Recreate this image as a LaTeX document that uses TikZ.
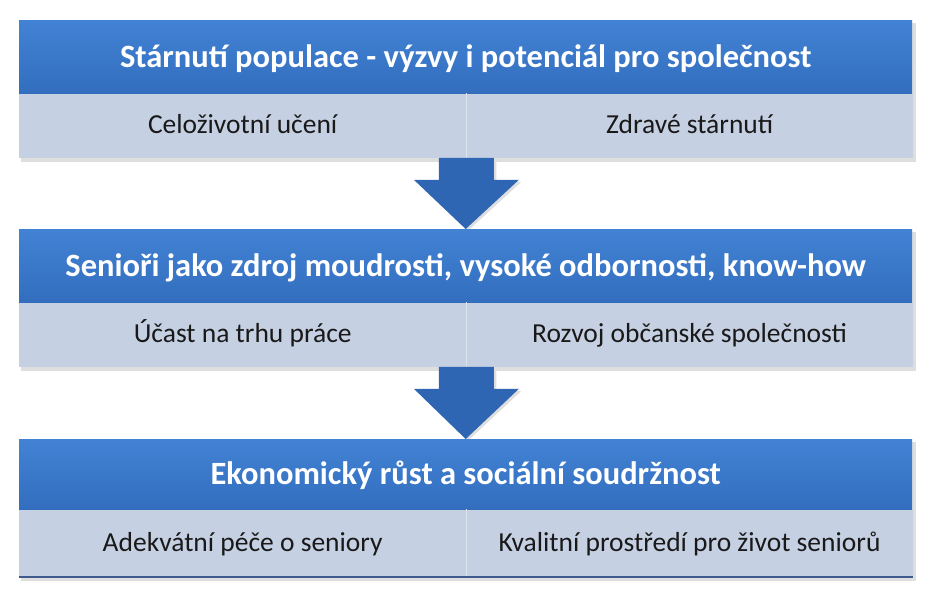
\documentclass[tikz,border=0pt]{standalone}
\usepackage{fontspec}
\setmainfont{Carlito}
\usetikzlibrary{calc,backgrounds}
\definecolor{headtop}{HTML}{4282D4}
\definecolor{headbot}{HTML}{336EBE}
\definecolor{subfill}{HTML}{C6D0E3}
\definecolor{subline}{HTML}{DCE3EF}
\definecolor{arrowfill}{HTML}{2F66B3}
\definecolor{boxedge}{HTML}{3E5A8C}
\begin{document}
\begin{tikzpicture}[x=1pt,y=-1pt,
    head/.style={anchor=north west, minimum width=893pt, minimum height=73pt,
      inner sep=0pt, top color=headtop, bottom color=headbot, text=white,
      text height=21pt, text depth=0pt,
      font=\fontsize{32.5}{38}\selectfont\bfseries},
    sub/.style={anchor=north west, minimum height=64pt, inner sep=0pt,
      fill=subfill, text=black!90, text height=16pt, text depth=0pt,
      font=\fontsize{27.5}{32}\selectfont},
    subl/.style={sub, minimum width=447pt},
    subr/.style={sub, minimum width=446pt},
    blockarrow/.style={fill=arrowfill},
    shade box/.style={fill=black!13}]
  \useasboundingbox (0,0) rectangle (933,599);
  \node[head] (h1) at (19,20) {Stárnutí populace - výzvy i potenciál pro společnost};
  \node[subl] (a1) at (h1.south west) {Celoživotní učení};
  \node[subr] (b1) at (a1.north east) {Zdravé stárnutí};
  \node[head] (h2) at (19,229) {Senioři jako zdroj moudrosti, vysoké odbornosti, know-how};
  \node[subl] (a2) at (h2.south west) {Účast na trhu práce};
  \node[subr] (b2) at (a2.north east) {Rozvoj občanské společnosti};
  \node[head, minimum height=70pt] (h3) at (19,439) {Ekonomický růst a sociální soudržnost};
  \node[subl, minimum height=67pt] (a3) at (h3.south west) {Adekvátní péče o seniory};
  \node[subr, minimum height=67pt] (b3) at (a3.north east) {Kvalitní prostředí pro život seniorů};
  \foreach \i in {1,2,3}
    \draw[subline] (a\i.north east) -- (a\i.south east);
  \draw[boxedge, line width=1.5pt] (a3.south west) -- (b3.south east);
  \foreach \i/\j in {1/2,2/3} {
    \fill[blockarrow] ($(a\i.south east)+(-27.5,0)$) -- ($(a\i.south east)+(27.5,0)$)
      -- ($(a\i.south east)+(27.5,22)$) -- ($(a\i.south east)+(52.5,22)$)
      -- (h\j.north) -- ($(a\i.south east)+(-52.5,22)$)
      -- ($(a\i.south east)+(-27.5,22)$) -- cycle;
  }
  \begin{scope}[on background layer]
    \foreach \i in {1,2,3}
      \fill[shade box] ($(h\i.north west)+(2,3)$) rectangle ($(b\i.south east)+(3,4)$);
    \foreach \i/\j in {1/2,2/3}
      \fill[shade box] ($(a\i.south east)+(-25,0)$) -- ($(a\i.south east)+(30,0)$)
        -- ($(a\i.south east)+(30,24)$) -- ($(a\i.south east)+(55,24)$)
        -- ($(h\j.north)+(2,2)$) -- ($(a\i.south east)+(-50,24)$)
        -- ($(a\i.south east)+(-25,24)$) -- cycle;
  \end{scope}
\end{tikzpicture}
\end{document}
